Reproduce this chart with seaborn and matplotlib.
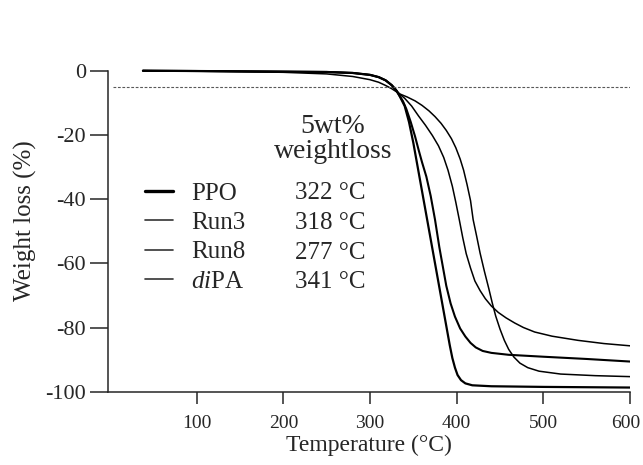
import numpy as np
import pandas as pd
import matplotlib
matplotlib.use("Agg")
import matplotlib.pyplot as plt
import matplotlib.transforms as mtransforms
import seaborn as sns
from matplotlib.lines import Line2D

# TGA curves (temperature in C, weight loss in %)
temp_ppo = [38, 100, 150, 200, 250, 280, 300, 310, 318, 325, 330, 334, 340, 345, 350, 355, 360,
            365, 371, 377, 383, 388, 392, 395, 398, 401, 405, 410, 418, 440, 500, 600]
loss_ppo = [0, -0.1, -0.2, -0.3, -0.4, -0.7, -1.3, -2.0, -3.0, -4.5, -6.0, -7.8, -11, -16, -22.5, -30, -37.5,
            -45, -54, -63, -72, -79.5, -85.5, -89.5, -92.5, -94.8, -96.4, -97.4, -98.0, -98.3, -98.5, -98.7]

temp_run3 = [38, 100, 150, 200, 250, 280, 300, 310, 318, 325, 330, 334, 338, 342, 347, 352, 356,
             360, 365, 370, 375, 380, 384, 388, 393, 398, 404, 410, 416, 422, 430, 440, 460,
             500, 550, 600]
loss_run3 = [0, -0.1, -0.2, -0.3, -0.4, -0.7, -1.3, -2.0, -3.0, -4.5, -6.0, -7.8, -9.5, -12, -16, -20.5, -24.6,
             -28.5, -33, -39, -46.4, -55, -61, -67, -72.5, -76.6, -80.3, -82.8, -84.8, -86.2, -87.3, -87.9, -88.5,
             -89.1, -89.8, -90.6]

temp_run8 = [38, 100, 150, 200, 250, 280, 300, 310, 318, 325, 333, 340, 348, 356, 364, 372, 379,
             385, 390, 395, 399, 403, 407, 411, 416, 421, 427, 433, 440, 448, 457, 467, 477,
             490, 510, 540, 570, 600]
loss_run8 = [0, -0.15, -0.3, -0.5, -1.0, -1.8, -2.8, -3.6, -4.6, -5.6, -7.0, -8.6, -11, -14.1, -17, -20.2, -23.4,
             -27, -31, -36, -41, -46.4, -52, -57, -61.5, -65.5, -68.5, -71, -73.3, -75.3, -77, -78.6, -80,
             -81.4, -82.7, -84, -85, -85.7]

temp_dipa = [38, 100, 150, 200, 250, 280, 300, 310, 318, 325, 330, 334, 343, 352, 360, 368, 375,
             382, 388, 394, 399, 404, 408, 412, 416, 419, 423, 427, 432, 437, 441, 445, 450,
             455, 460, 466, 473, 482, 495, 520, 560, 600]
loss_dipa = [0, -0.1, -0.2, -0.3, -0.4, -0.7, -1.3, -2.0, -3.0, -4.5, -6.0, -7.2, -8.2, -9.4, -10.8, -12.5, -14.3,
             -16.4, -18.6, -21.2, -24, -27.5, -31, -35.5, -40.5, -46.4, -51.5, -56.8, -62.5, -67.8, -72.3, -76.4, -80.5,
             -84, -86.8, -89.2, -91.1, -92.5, -93.6, -94.5, -95, -95.3]

samples = ["PPO", "Run3", "Run8", "diPA"]
onset = ["322 \u00b0C", "318 \u00b0C", "277 \u00b0C", "341 \u00b0C"]
xticks = [100, 200, 300, 400, 500, 600]
yticks = [0, -20, -40, -60, -80, -100]

frames = []
for name, t, w in zip(samples, [temp_ppo, temp_run3, temp_run8, temp_dipa],
                      [loss_ppo, loss_run3, loss_run8, loss_dipa]):
    frames.append(pd.DataFrame({"T": t, "loss": w, "sample": name}))
df = pd.concat(frames, ignore_index=True)

sns.set_style("ticks")
plt.rcParams["font.family"] = ["Liberation Serif", "DejaVu Serif"]
plt.rcParams["mathtext.fontset"] = "custom"
plt.rcParams["mathtext.rm"] = "Liberation Serif"
plt.rcParams["mathtext.it"] = "Liberation Serif:italic"

fig = plt.figure(figsize=(6.43, 4.65), dpi=100)
ax = fig.add_axes([0.168, 0.1576, 0.8118, 0.6938])

sns.lineplot(data=df, x="T", y="loss", hue="sample", size="sample",
             palette=["black"] * 4, sizes={"PPO": 1.6, "Run3": 1.5, "Run8": 1.1, "diPA": 1.1},
             sort=False, estimator=None, legend=False, ax=ax)

ax.hlines(-5, 4, 600, colors="0.35", linestyles=(0, (2.5, 1.5)), linewidth=0.8)

ax.set_xlim(-2.3, 600)
ax.set_ylim(-100, 0.5)
ax.set_xticks(xticks)
ax.set_yticks(yticks)
ax.set_yticklabels([str(v) for v in yticks])
ax.spines["top"].set_visible(False)
ax.spines["right"].set_visible(False)
ax.spines["left"].set_bounds(-100, 0)
for s in ["left", "bottom"]:
    ax.spines[s].set_linewidth(1.1)
ax.tick_params(axis="y", direction="out", length=13, width=1.1, pad=3, labelsize=16)
ax.tick_params(axis="x", direction="out", length=8.5, width=1.1, pad=8, labelsize=14)

# keep the last x label inside the canvas
last = ax.get_xticklabels()[-1]
last.set_transform(last.get_transform() + mtransforms.ScaledTranslation(-4 / 100, 0, fig.dpi_scale_trans))

ax.set_xlabel("Temperature (\u00b0C)", fontsize=17, labelpad=2)
ax.set_ylabel("Weight loss (%)", fontsize=18)
ax.yaxis.set_label_coords(-0.137, 0.529)

handles = [Line2D([], [], color="black", lw=2.4),
           Line2D([], [], color="0.2", lw=1.2),
           Line2D([], [], color="0.2", lw=1.2),
           Line2D([], [], color="0.2", lw=1.2)]
labels = ["PPO", "Run3", "Run8", r"$\mathit{di}$PA"]
leg = ax.legend(handles, labels, loc="upper left", bbox_to_anchor=(145 / 643, 1 - 182 / 465),
                bbox_transform=fig.transFigure, frameon=False, fontsize=18,
                handlelength=1.1, handletextpad=0.75, labelspacing=0.28,
                borderpad=0, borderaxespad=0)

for i, txt in enumerate(onset):
    fig.text(295 / 643, 1 - (193 + 29.8 * i) / 465, txt, fontsize=18, va="center", ha="left")

fig.text(333 / 643, 1 - 139 / 465, "5wt%\nweightloss", fontsize=20, ha="center", va="center",
         multialignment="center", linespacing=1.0)

fig.savefig("out.png", dpi=100)
